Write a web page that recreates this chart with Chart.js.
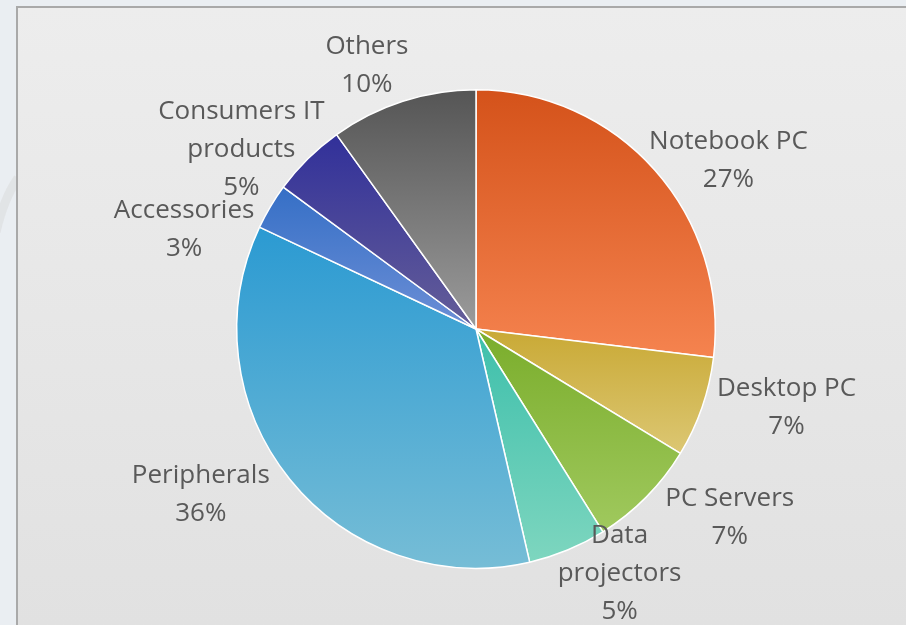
<!DOCTYPE html>
<html>
<head>
<meta charset="utf-8">
<script src="https://cdn.jsdelivr.net/npm/chart.js@4/dist/chart.umd.min.js"></script>
<style>
  html, body { margin: 0; padding: 0; background: #eaeef2; }
  #wrap { width: 906px; height: 625px; position: relative; }
</style>
</head>
<body>
<div id="wrap"><canvas id="pieChart" width="906" height="625"></canvas></div>
<script>
// --- data ---
const categories = [
    'Notebook PC', 'Desktop PC', 'PC Servers', ['Data', 'projectors'],
    'Peripherals', 'Accessories', ['Consumers IT', 'products'], 'Others'
];
const shares = [26.9, 6.8, 7.4, 5.3, 35.6, 3.1, 5.0, 9.9];

// top / bottom colour of each slice gradient
const topColors = ['#d4521a', '#c9a935', '#7aad2b', '#3dbfab', '#2b9ad2', '#356fc6', '#31309a', '#555555'];
const bottomColors = ['#f5834f', '#dcc773', '#a0c95e', '#7ed6bf', '#76bdd6', '#6d8fd6', '#655e98', '#9b9b9b'];

const FONT_SIZE = 26;
const FONT = FONT_SIZE + 'px "Open Sans"';
const LINE_H = 38;
const LABEL_GAP = 6;                   // min distance between text and pie edge
const SIDE_PULL = 8 * Math.PI / 180;   // labels lean toward the left/right sides
const STEP = Math.PI / 180;

// vertical gradient over the bounding box of each slice
const sliceFill = (context) => {
    const chart = context.chart;
    const area = chart.chartArea;
    const i = context.dataIndex;
    if (!area) return topColors[i];
    const cx = (area.left + area.right) / 2;
    const cy = (area.top + area.bottom) / 2;
    const r = Math.min(area.right - area.left, area.bottom - area.top) / 2;
    const total = shares.reduce((a, b) => a + b, 0);
    const before = shares.slice(0, i).reduce((a, b) => a + b, 0);
    const a0 = -Math.PI / 2 + (before / total) * Math.PI * 2;
    const a1 = a0 + (shares[i] / total) * Math.PI * 2;
    const ys = [cy, cy + r * Math.sin(a0), cy + r * Math.sin(a1)];
    const inRange = (a) => {
        for (let k = -1; k <= 1; k++) {
            const t = a + k * Math.PI * 2;
            if (t >= a0 && t <= a1) return true;
        }
        return false;
    };
    if (inRange(-Math.PI / 2)) ys.push(cy - r);
    if (inRange(Math.PI / 2)) ys.push(cy + r);
    const g = chart.ctx.createLinearGradient(0, Math.min(...ys), 0, Math.max(...ys));
    g.addColorStop(0, topColors[i]);
    g.addColorStop(1, bottomColors[i]);
    return g;
};

// frame and background behind the chart
const framePlugin = {
    id: 'frame',
    beforeDraw(chart) {
        const ctx = chart.ctx;
        ctx.save();
        ctx.fillStyle = '#eaeef2';
        ctx.fillRect(0, 0, chart.width, chart.height);
        // faint swoosh at the left edge
        ctx.strokeStyle = 'rgba(215,215,215,0.45)';
        ctx.lineWidth = 9;
        ctx.beginPath();
        ctx.moveTo(-4, 232);
        ctx.quadraticCurveTo(4, 198, 18, 178);
        ctx.stroke();
        const g = ctx.createLinearGradient(0, 6, 0, chart.height);
        g.addColorStop(0, '#ededed');
        g.addColorStop(1, '#e1e1e1');
        ctx.fillStyle = g;
        ctx.fillRect(17, 7, chart.width, chart.height);
        ctx.strokeStyle = '#a9a9a9';
        ctx.lineWidth = 2;
        ctx.beginPath();
        ctx.moveTo(17, chart.height + 2);
        ctx.lineTo(17, 7);
        ctx.lineTo(chart.width + 2, 7);
        ctx.stroke();
        ctx.restore();
    }
};

// outside-end labels: name + percentage, pushed clear of the pie and of each other
const labelPlugin = {
    id: 'sliceLabels',
    afterDatasetsDraw(chart) {
        const ctx = chart.ctx;
        const meta = chart.getDatasetMeta(0);
        const total = shares.reduce((a, b) => a + b, 0);
        const maxY = chart.height - FONT_SIZE / 2;
        ctx.save();
        ctx.font = FONT;
        ctx.fillStyle = '#595959';
        ctx.textAlign = 'center';
        ctx.textBaseline = 'middle';

        const placed = [];
        const order = shares.map((v, i) => i).sort((a, b) => shares[b] - shares[a]);
        order.forEach(i => {
            const arc = meta.data[i];
            const name = Array.isArray(categories[i]) ? categories[i] : [categories[i]];
            const lines = [...name, Math.round(shares[i] / total * 100) + '%'];
            const widths = lines.map(t => ctx.measureText(t).width);
            const offs = lines.map((t, k) => (k - (lines.length - 1) / 2) * LINE_H);
            const mid = (arc.startAngle + arc.endAngle) / 2;
            const side = (mid > Math.PI / 2) ? Math.PI : 0;
            let ang = mid - SIDE_PULL * Math.sin(2 * (mid - side));
            const limit = arc.outerRadius + LABEL_GAP;

            const place = (a) => {
                const dx = Math.cos(a), dy = Math.sin(a);
                const clear = (d) => lines.every((t, k) => {
                    const nx = Math.max(Math.abs(dx * d) - widths[k] / 2, 0);
                    const ny = Math.max(Math.abs(dy * d + offs[k]) - FONT_SIZE / 2, 0);
                    return Math.hypot(nx, ny) >= limit;
                });
                let d = arc.outerRadius;
                while (!clear(d) && d < arc.outerRadius + 300) d += 1;
                const x = arc.x + dx * d;
                // keep the last line inside the chart box
                const y = Math.min(arc.y + dy * d, maxY - offs[offs.length - 1]);
                const rects = lines.map((t, k) => ({
                    l: x - widths[k] / 2, r: x + widths[k] / 2,
                    t: y + offs[k] - FONT_SIZE * 0.4, b: y + offs[k] + FONT_SIZE * 0.4
                }));
                return { x, y, rects, ang: a };
            };
            const hits = (p) => placed.find(q => q.rects.some(a => p.rects.some(b =>
                a.l < b.r && b.l < a.r && a.t < b.b && b.t < a.b)));

            let p = place(ang);
            let other = hits(p);
            let tries = 0;
            while (other && tries < 40) {
                ang += (ang > other.ang ? 1 : -1) * STEP;
                p = place(ang);
                other = hits(p);
                tries++;
            }
            placed.push(p);
            lines.forEach((t, k) => ctx.fillText(t, p.x, p.y + offs[k]));
        });
        ctx.restore();
    }
};

new Chart(document.getElementById('pieChart'), {
    type: 'pie',
    data: {
        labels: categories,
        datasets: [{
            data: shares,
            backgroundColor: sliceFill,
            borderColor: '#ffffff',
            borderWidth: 1.5
        }]
    },
    options: {
        responsive: false,
        animation: false,
        layout: { padding: { left: 236, right: 190, top: 89, bottom: 56 } },
        plugins: {
            legend: { display: false },
            tooltip: { enabled: false }
        }
    },
    plugins: [framePlugin, labelPlugin]
});
</script>
</body>
</html>
